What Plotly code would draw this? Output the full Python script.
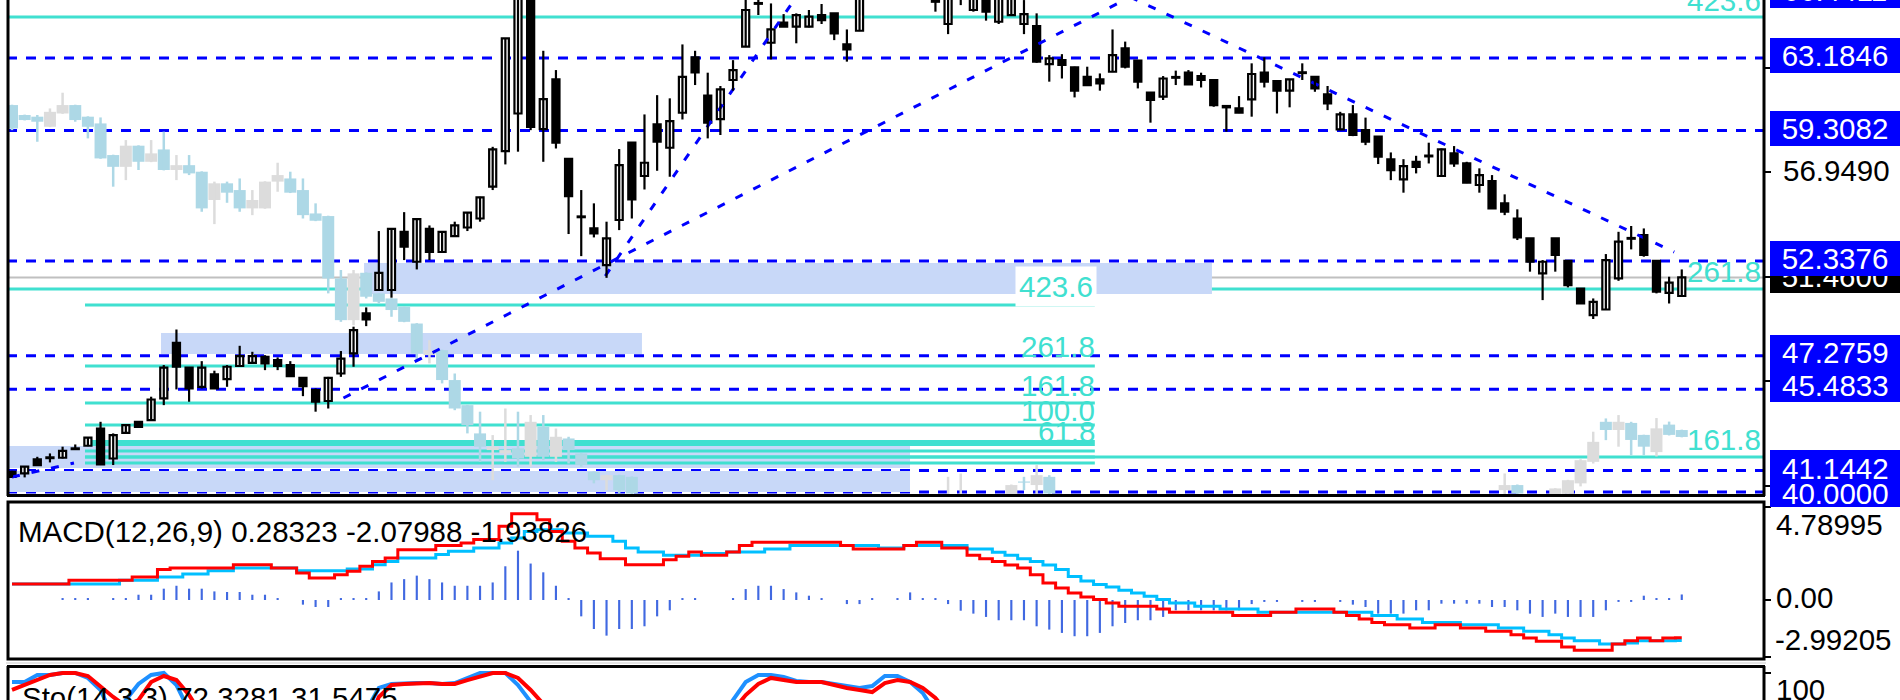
import plotly.graph_objects as go

# ---------------------------------------------------------------- data
candle_index = list(range(1, 134))

main_open = [
    41.08, 40.99, 41.74, 41.84, 41.83, 42.33, 42.47, 43.39, 41.79, 43.16,
    43.75, 43.84, 45.00, 47.97, 46.64, 45.62, 46.28, 46.03, 46.73, 46.90,
    47.22, 47.05, 46.78, 46.10, 45.44, 44.86, 46.33, 47.40, 49.54, 50.79,
    50.79, 53.90, 52.30, 54.06, 52.82, 53.67, 54.13, 54.61, 56.31, 58.21,
    60.22, 66.50, 59.39, 62.04, 57.80, 54.72, 54.08, 52.12, 54.53, 58.66,
    56.88, 59.64, 58.39, 60.26, 63.22, 61.17, 59.92, 62.01, 63.79, 66.12,
    64.00, 65.07, 64.86, 64.86, 65.48, 65.57, 63.91, 64.64, 66.50, 67.30,
    67.00, 67.60, 67.10, 66.30, 65.00, 66.40, 65.75, 66.40, 65.12, 65.48,
    65.00, 64.89, 62.86, 63.07, 62.68, 62.18, 62.04, 62.45, 63.70, 63.04,
    61.33, 61.12, 62.17, 62.40, 62.22, 62.01, 60.62, 60.49, 60.97, 62.40,
    61.95, 61.44, 62.42, 62.18, 61.24, 59.37, 60.17, 59.33, 58.98, 57.77,
    56.70, 57.64, 57.97, 56.88, 58.09, 57.55, 56.40, 56.61, 55.42, 54.61,
    53.55, 51.68, 53.55, 52.35, 50.87, 49.45, 49.75, 51.41, 53.57, 53.72,
    52.35, 50.64, 50.47]
main_high = [
    41.13, 41.38, 41.88, 42.06, 42.42, 42.54, 42.92, 43.75, 43.13, 43.59,
    43.77, 45.09, 46.78, 48.68, 46.66, 46.99, 46.48, 46.78, 47.81, 47.49,
    47.31, 47.19, 46.99, 46.12, 45.53, 46.15, 47.53, 48.83, 49.86, 53.94,
    54.08, 54.95, 54.60, 54.24, 53.92, 54.44, 54.95, 55.77, 58.44, 64.25,
    67.35, 67.20, 63.57, 62.54, 57.82, 56.13, 55.42, 54.44, 58.32, 58.68,
    60.17, 61.20, 61.03, 63.91, 63.57, 62.40, 61.69, 63.07, 66.30, 66.64,
    66.10, 65.53, 65.57, 65.75, 66.07, 65.59, 64.71, 66.80, 67.80, 67.90,
    68.10, 67.90, 67.50, 66.46, 66.60, 66.60, 66.50, 66.50, 66.50, 66.50,
    66.28, 65.57, 63.34, 63.39, 62.72, 62.72, 62.36, 64.71, 64.06, 63.07,
    61.35, 62.22, 62.51, 62.54, 62.40, 62.03, 60.67, 61.15, 62.90, 63.22,
    62.01, 62.06, 62.90, 62.20, 61.69, 60.31, 60.67, 60.00, 59.00, 58.14,
    57.78, 57.96, 58.66, 58.35, 58.48, 57.64, 57.29, 56.93, 55.90, 55.10,
    53.57, 52.39, 53.57, 52.37, 50.89, 50.34, 52.71, 53.90, 54.21, 54.08,
    52.37, 51.50, 51.89]
main_low = [
    40.78, 40.78, 41.42, 41.58, 41.79, 42.28, 42.45, 41.44, 41.44, 43.14,
    43.46, 43.81, 44.64, 45.48, 44.82, 45.53, 45.51, 45.62, 46.69, 46.87,
    46.51, 46.51, 46.17, 45.12, 44.29, 44.46, 46.15, 46.69, 48.86, 50.77,
    50.38, 52.39, 51.89, 52.39, 52.78, 53.63, 53.94, 54.44, 56.13, 57.50,
    58.18, 59.33, 57.64, 58.35, 53.78, 52.60, 53.60, 51.44, 53.99, 54.61,
    56.16, 57.16, 56.84, 59.90, 61.74, 58.89, 59.07, 61.44, 63.77, 65.48,
    63.11, 64.84, 63.97, 64.82, 65.00, 64.14, 62.99, 64.62, 66.40, 66.60,
    66.70, 66.80, 66.60, 65.66, 64.46, 66.01, 65.66, 65.18, 65.00, 65.46,
    64.46, 62.93, 61.92, 62.09, 61.08, 61.72, 61.44, 62.43, 62.63, 61.56,
    59.73, 60.94, 61.74, 61.75, 61.61, 60.58, 59.25, 60.24, 60.05, 61.61,
    60.22, 60.55, 62.01, 61.38, 60.40, 59.33, 59.01, 58.53, 57.52, 56.66,
    55.99, 57.02, 57.55, 56.84, 57.37, 56.50, 55.99, 55.13, 54.79, 53.46,
    51.77, 50.25, 51.77, 50.93, 50.05, 49.24, 49.73, 51.28, 52.96, 52.57,
    50.61, 50.07, 50.45]
main_close = [
    40.81, 41.35, 41.44, 41.81, 42.20, 42.29, 42.90, 41.47, 43.04, 43.57,
    43.48, 44.94, 46.64, 46.69, 45.53, 46.64, 45.53, 46.69, 47.26, 47.26,
    46.87, 46.73, 46.19, 45.66, 44.82, 46.10, 47.13, 48.65, 49.22, 51.71,
    54.06, 53.10, 54.58, 52.82, 53.90, 54.24, 54.92, 55.74, 58.30, 64.23,
    66.64, 59.51, 60.99, 58.66, 55.81, 54.68, 53.81, 53.55, 57.46, 55.63,
    57.59, 58.71, 59.81, 62.18, 62.41, 59.73, 61.51, 62.54, 65.75, 66.08,
    64.71, 64.86, 65.48, 65.39, 65.21, 64.50, 63.64, 66.50, 67.30, 67.00,
    67.60, 67.10, 66.90, 66.19, 66.40, 66.45, 66.35, 65.66, 66.40, 66.35,
    65.53, 62.99, 63.16, 62.81, 61.44, 61.74, 61.83, 63.34, 62.72, 61.92,
    60.94, 62.09, 62.13, 61.77, 62.01, 60.67, 60.55, 60.26, 62.33, 61.92,
    61.44, 62.04, 62.38, 61.56, 60.76, 60.17, 59.07, 58.71, 57.91, 57.20,
    57.41, 57.37, 57.93, 58.30, 57.55, 56.52, 56.93, 55.15, 54.97, 53.60,
    52.30, 52.30, 52.66, 51.05, 50.07, 50.16, 52.39, 53.37, 53.53, 52.66,
    50.70, 51.18, 51.46]

# faded overlay candles
ghost_open = [
    60.67, 60.14, 60.05, 59.51, 60.22, 60.67, 60.05, 59.69, 58.00, 57.37,
    58.50, 57.64, 58.30, 57.20, 57.46, 57.11, 55.60, 56.49, 56.13, 55.15,
    55.15, 56.58, 56.75, 56.13, 54.88, 54.74, 51.41, 49.18, 51.71, 50.61,
    50.34, 49.89, 49.00, 47.31, 47.58, 45.98, 44.64, 43.13, 42.24, 42.06,
    42.33, 41.88, 43.48, 41.88, 42.86, 42.06, 41.08, 40.63, 40.90, 40.81,
    39.5, 39.0, 38.5, 39.2, 38.4, 37.8, 38.6, 38.0, 38.9, 39.3,
    38.7, 38.2, 38.8, 39.2, 38.6, 38.1, 38.7, 39.1, 38.5, 39.0,
    39.4, 38.9, 39.3, 38.8, 39.3, 39.4, 39.6, 39.0, 38.6, 39.5,
    40.56, 40.37, 40.81, 39.6, 39.0, 38.4, 38.9, 38.2, 37.6, 38.3,
    37.7, 37.2, 37.8, 38.2, 37.6, 37.0, 37.7, 37.1, 37.8, 38.3,
    37.8, 38.4, 38.9, 38.3, 37.9, 38.6, 39.0, 38.5, 39.1, 39.4,
    38.8, 38.3, 38.9, 39.3, 38.9, 39.4, 39.0, 39.4, 40.10, 40.37,
    39.6, 39.1, 39.5, 39.9, 40.46, 41.61, 43.75, 43.31, 43.69, 43.05,
    42.13, 43.60, 43.31]
ghost_high = [
    60.69, 60.16, 60.14, 60.49, 61.33, 60.69, 60.07, 60.01, 58.02, 58.80,
    58.52, 58.80, 59.25, 58.00, 58.00, 57.13, 56.58, 56.58, 56.75, 56.13,
    56.60, 57.59, 57.11, 56.75, 55.42, 54.76, 51.86, 51.86, 51.73, 50.63,
    50.36, 49.91, 49.02, 48.11, 47.60, 46.33, 44.66, 44.29, 43.04, 44.46,
    44.29, 44.11, 44.11, 43.39, 42.95, 42.08, 41.10, 40.92, 40.92, 40.83,
    39.6, 39.2, 39.4, 39.4, 38.6, 38.9, 38.8, 39.2, 39.5, 39.5,
    38.9, 39.0, 39.5, 39.4, 38.8, 38.9, 39.3, 39.3, 39.2, 39.6,
    39.6, 39.5, 39.5, 39.6, 40.81, 40.99, 39.7, 39.2, 39.7, 40.40,
    40.81, 41.44, 40.90, 39.7, 39.2, 39.1, 39.1, 38.4, 38.6, 38.5,
    37.9, 38.0, 38.5, 38.4, 37.8, 37.9, 37.9, 38.0, 38.6, 38.5,
    38.6, 39.1, 39.1, 38.5, 38.8, 39.3, 39.2, 39.3, 39.6, 39.6,
    39.0, 39.1, 39.5, 39.5, 39.6, 39.6, 39.6, 39.6, 40.99, 40.40,
    39.7, 39.7, 40.20, 40.65, 41.75, 43.22, 43.93, 44.11, 43.75, 43.06,
    43.95, 43.76, 43.33]
ghost_low = [
    59.33, 59.85, 58.71, 59.49, 60.20, 59.78, 58.89, 57.80, 56.31, 56.66,
    57.20, 57.62, 57.18, 56.66, 56.93, 54.97, 54.31, 55.45, 54.97, 54.79,
    55.13, 56.04, 55.97, 54.61, 54.47, 50.61, 49.09, 48.91, 50.34, 50.07,
    49.36, 49.07, 47.05, 46.87, 45.80, 44.37, 43.13, 41.61, 40.63, 41.61,
    41.35, 41.35, 41.70, 41.61, 41.52, 41.35, 40.46, 40.10, 39.92, 39.80,
    38.8, 38.3, 38.3, 38.2, 37.6, 37.6, 37.8, 37.9, 38.7, 38.5,
    38.0, 38.1, 38.6, 38.4, 37.9, 38.0, 38.5, 38.3, 38.3, 38.8,
    38.7, 38.7, 38.6, 38.6, 39.1, 39.2, 38.8, 38.4, 38.5, 39.3,
    40.10, 39.90, 39.70, 38.8, 38.2, 38.2, 38.0, 37.4, 37.4, 37.5,
    37.0, 37.0, 37.6, 37.4, 36.8, 36.8, 36.9, 36.9, 37.6, 37.6,
    37.6, 38.2, 38.1, 37.7, 37.7, 38.4, 38.3, 38.3, 38.9, 38.6,
    38.1, 38.1, 38.7, 38.7, 38.7, 38.8, 38.8, 38.9, 39.80, 39.70,
    38.9, 38.9, 39.3, 39.7, 40.30, 41.52, 42.77, 42.42, 41.96, 41.97,
    41.90, 43.02, 42.92]
ghost_close = [
    59.42, 59.87, 59.78, 60.31, 60.67, 59.87, 59.51, 57.82, 57.37, 58.50,
    57.64, 58.09, 57.20, 57.46, 57.02, 55.15, 56.49, 55.99, 55.15, 55.60,
    56.58, 56.93, 55.99, 54.79, 54.49, 51.41, 49.18, 51.68, 50.43, 50.16,
    49.72, 49.09, 47.40, 47.58, 45.98, 44.46, 43.57, 42.42, 42.42, 42.24,
    41.79, 43.75, 41.88, 42.95, 42.24, 41.44, 40.63, 40.90, 40.10, 39.92,
    39.0, 38.5, 39.2, 38.4, 37.8, 38.6, 38.0, 38.9, 39.3, 38.7,
    38.2, 38.8, 39.2, 38.6, 38.1, 38.7, 39.1, 38.5, 39.0, 39.4,
    38.9, 39.3, 38.8, 39.3, 39.6, 39.7, 39.0, 38.6, 39.5, 40.37,
    40.50, 40.90, 39.92, 39.0, 38.4, 38.9, 38.2, 37.6, 38.3, 37.7,
    37.2, 37.8, 38.2, 37.6, 37.0, 37.7, 37.1, 37.8, 38.3, 37.8,
    38.4, 38.9, 38.3, 37.9, 38.6, 39.0, 38.5, 39.1, 39.4, 38.8,
    38.3, 38.9, 39.3, 38.9, 39.4, 39.0, 39.4, 39.1, 40.37, 39.92,
    39.1, 39.5, 40.19, 40.63, 41.70, 42.68, 43.31, 43.75, 42.78, 42.42,
    43.40, 43.05, 42.94]

macd_hist = [
    0, 0, 0, 0, 0.1, 0.1, 0.1, 0, 0.1, 0.1,
    0.27, 0.27, 0.58, 0.73, 0.58, 0.58, 0.44, 0.41, 0.41, 0.27,
    0.27, 0.10, 0, -0.24, -0.36, -0.36, 0.10, 0.10, 0.10, 0.44,
    0.90, 1.07, 1.25, 1.07, 0.90, 0.73, 0.73, 0.73, 0.90, 1.73,
    2.53, 1.87, 1.42, 0.73, 0.10, -0.84, -1.49, -1.83, -1.49, -1.49,
    -1.35, -0.84, -0.53, 0.1, 0.1, 0, 0, 0.10, 0.56, 0.73,
    0.73, 0.56, 0.39, 0.22, 0.10, 0, -0.21, -0.21, 0.1, 0,
    0.10, 0.39, 0.10, 0.10, -0.21, -0.55, -0.70, -0.87, -1.04, -1.04,
    -1.04, -1.35, -1.52, -1.69, -1.86, -1.86, -1.69, -1.35, -1.18, -1.04,
    -1.04, -0.87, -0.53, -0.53, -0.53, -0.53, -0.53, -0.53, -0.21, -0.1,
    -0.1, 0, -0.1, -0.1, 0, -0.1, -0.24, -0.36, -0.70, -0.70,
    -0.70, -0.53, -0.53, -0.19, -0.19, -0.19, -0.19, -0.36, -0.36, -0.53,
    -0.70, -0.87, -0.70, -0.87, -0.87, -0.87, -0.53, -0.1, -0.1, 0.22,
    0.1, 0.1, 0.28323]
macd_main = [   # light-blue line
    0.82, 0.82, 0.82, 0.82, 0.82, 0.82, 0.82, 0.82, 0.82, 1.01,
    1.01, 1.01, 1.18, 1.18, 1.33, 1.33, 1.50, 1.50, 1.64, 1.64,
    1.64, 1.64, 1.64, 1.50, 1.50, 1.50, 1.50, 1.59, 1.59, 1.81,
    1.98, 2.15, 2.15, 2.15, 2.33, 2.50, 2.50, 2.67, 2.67, 2.92,
    3.18, 3.52, 3.61, 3.61, 3.44, 3.44, 3.27, 3.27, 3.01, 2.67,
    2.46, 2.46, 2.29, 2.29, 2.29, 2.38, 2.38, 2.46, 2.46, 2.46,
    2.62, 2.62, 2.79, 2.79, 2.79, 2.79, 2.79, 2.79, 2.79, 2.67,
    2.67, 2.79, 2.79, 2.79, 2.79, 2.79, 2.62, 2.62, 2.45, 2.29,
    2.12, 1.97, 1.80, 1.56, 1.21, 0.97, 0.80, 0.67, 0.50, 0.36,
    0.19, 0.02, -0.15, -0.15, -0.32, -0.32, -0.46, -0.46, -0.46, -0.63,
    -0.63, -0.63, -0.63, -0.63, -0.63, -0.63, -0.63, -0.63, -0.80, -0.80,
    -0.97, -0.97, -1.15, -1.15, -1.15, -1.27, -1.27, -1.27, -1.44, -1.44,
    -1.61, -1.61, -1.78, -1.95, -2.09, -2.09, -2.26, -2.26, -2.21, -2.09,
    -2.09, -2.09, -2.07988]
macd_signal = [   # red line
    0.82, 0.82, 0.82, 0.82, 0.82, 1.01, 1.01, 1.01, 1.01, 1.01,
    1.18, 1.18, 1.56, 1.64, 1.64, 1.64, 1.64, 1.64, 1.81, 1.81,
    1.81, 1.64, 1.64, 1.39, 1.13, 1.13, 1.30, 1.47, 1.73, 1.98,
    2.15, 2.58, 2.58, 2.58, 2.79, 2.79, 2.92, 3.10, 3.10, 3.78,
    4.43, 4.43, 4.12, 3.52, 3.01, 2.67, 2.41, 2.12, 2.12, 1.81,
    1.81, 1.81, 2.07, 2.24, 2.46, 2.29, 2.29, 2.46, 2.79, 2.96,
    2.96, 2.96, 2.96, 2.96, 2.96, 2.96, 2.79, 2.62, 2.62, 2.62,
    2.62, 2.79, 2.96, 2.96, 2.67, 2.67, 2.29, 2.12, 1.97, 1.80,
    1.64, 1.30, 0.87, 0.62, 0.36, 0.15, 0.02, -0.15, -0.32, -0.32,
    -0.32, -0.46, -0.63, -0.63, -0.63, -0.63, -0.63, -0.80, -0.80, -0.80,
    -0.63, -0.63, -0.46, -0.46, -0.46, -0.63, -0.80, -0.97, -1.15, -1.27,
    -1.27, -1.44, -1.44, -1.27, -1.27, -1.44, -1.44, -1.61, -1.61, -1.78,
    -1.95, -2.12, -2.12, -2.41, -2.58, -2.58, -2.58, -2.26, -2.09, -1.95,
    -2.09, -1.95, -1.93826]

stoch_k = [
    94, 94, 98.7, 98.7, 100, 100, 96.7, 88.7, 70, 82,
    92.7, 98.7, 100, 92, 75, 60, 55, 58, 62, 60,
    52, 45, 35, 25, 20, 35, 50, 68, 75, 90,
    92.7, 93.3, 93.3, 93.3, 92.7, 93.3, 96.7, 100, 100, 100,
    92, 83.3, 70, 55, 40, 30, 25, 35, 45, 40,
    45, 50, 55, 65, 60, 58, 70, 82, 94, 98.7,
    98.7, 97.3, 94.7, 94, 94, 92.7, 91.3, 90, 91.3, 98,
    98, 94, 86.7, 72, 60, 62, 70, 75, 72, 68,
    55, 35, 30, 25, 15, 12, 10, 25, 20, 12,
    8, 15, 18, 16, 12, 10, 10, 25, 40, 38,
    42, 45, 40, 30, 25, 22, 18, 30, 22, 12,
    8, 6, 10, 28, 25, 35, 20, 12, 5, 4,
    6, 8, 10, 5, 4, 15, 30, 55, 68, 45,
    25, 30, 72.3281]
stoch_d = [
    88.7, 92, 95.3, 98.7, 100, 100, 98, 90.7, 84, 78,
    82, 94, 98, 95.3, 85.3, 72, 62, 58, 59, 60,
    58, 52, 44, 35, 27, 27, 35, 51, 64, 84,
    92, 92.7, 93.3, 93.3, 92.7, 92.7, 95.3, 98, 100, 100,
    96.7, 88.7, 82, 70, 55, 42, 32, 30, 35, 40,
    43, 47, 52, 57, 61, 61, 62, 75, 85.3, 92.7,
    96.7, 95.3, 94, 94, 94, 92, 90, 88.7, 87.3, 93.3,
    95.3, 94, 90, 83.3, 70, 63, 64, 69, 72, 72,
    65, 53, 40, 30, 23, 17, 12, 16, 18, 19,
    13, 12, 14, 16, 15, 13, 11, 15, 25, 34,
    40, 42, 42, 38, 32, 26, 22, 23, 23, 21,
    14, 9, 8, 15, 21, 29, 27, 22, 12, 7,
    5, 6, 8, 8, 6, 8, 16, 33, 51, 56,
    47, 38, 31.5475]

# horizontal price levels (blue dashed, labelled on the scale)
level_prices = [63.1846, 59.3082, 52.3376, 47.2759, 45.4833, 41.1442, 40.0000]
scale_plain = [62.1240, 56.9490]
scale_top = 66.4411

# Fibonacci expansion 1 (short) and 2 (full width)
fib1_levels = [423.6, 261.8, 161.8, 100.0, 61.8, 50.0, 38.2, 23.6, 0.0]
fib1_prices = [49.99, 46.73, 44.75, 43.58, 42.70, 42.54, 42.19, 41.87, 41.55]
fib1_span = [6.77, 86.6]
fib2_levels = [423.6, 261.8, 161.8]
fib2_prices = [65.375, 50.845, 41.87]

# rectangles (candle-index span, price span)
rect_x0 = [28.83, 12.78, 0.6, 0.6]
rect_x1 = [95.86, 50.8, 71.99, 71.99]
rect_lo = [50.58, 47.37, 41.28, 40.00]
rect_hi = [52.23, 48.49, 42.46, 41.12]

# trend lines (candle index pairs, price pairs)
trend_x = [[27.2, 89.4], [47.9, 63.1], [89.4, 132.4], [1.0, 5.9]]
trend_y = [[45.02, 66.44], [51.54, 66.55], [66.44, 52.82], [40.80, 41.55]]

macd_name = "MACD(12,26,9)"
macd_scale = [4.78995, 0.00, -2.99205]
stoch_name = "Sto(14,3,3)"
stoch_scale = [100]

for arr in (main_open, main_high, main_low, main_close, ghost_open, ghost_high,
            ghost_low, ghost_close, macd_hist, macd_main, macd_signal, stoch_k, stoch_d):
    assert len(arr) == len(candle_index), len(arr)

# ---------------------------------------------------------------- layout helpers
W, H = 1900, 700
PL, PR = 7, 1765
FONT = "Liberation Sans"
FS = 29.5


def xp(px):
    return (px - PL) / (PR - PL)


def yp(py):
    return (H - py) / H


fig = go.Figure()


def wicks(xs, hi, lo, mask):
    X, Y = [], []
    for x, h, l, m in zip(xs, hi, lo, mask):
        if m:
            X += [x, x, None]
            Y += [l, h, None]
    return X, Y


# ---------------------------------------------------------------- ghost candles
g_up = [c >= o for o, c in zip(ghost_open, ghost_close)]
for col, want in (("#add8e6", False), ("#dcdcdc", True)):
    X, Y = wicks(candle_index, ghost_high, ghost_low, [u == want for u in g_up])
    fig.add_trace(go.Scatter(x=X, y=Y, mode="lines", line=dict(color=col, width=2.5),
                             hoverinfo="skip", showlegend=False))
fig.add_trace(go.Bar(
    x=candle_index,
    y=[max(abs(c - o), 0.06) for o, c in zip(ghost_open, ghost_close)],
    base=[min(o, c) for o, c in zip(ghost_open, ghost_close)],
    width=0.95,
    marker=dict(color=["#dcdcdc" if u else "#add8e6" for u in g_up], line=dict(width=0)),
    hoverinfo="skip", showlegend=False))

# ---------------------------------------------------------------- trend lines
for tx, ty in zip(trend_x, trend_y):
    fig.add_trace(go.Scatter(x=tx, y=ty, mode="lines",
                             line=dict(color="#0000ff", width=3, dash="8px,12px"),
                             hoverinfo="skip", showlegend=False))

# ---------------------------------------------------------------- main candles
X, Y = wicks(candle_index, main_high, main_low, [True] * len(candle_index))
fig.add_trace(go.Scatter(x=X, y=Y, mode="lines", line=dict(color="black", width=2.2),
                         hoverinfo="skip", showlegend=False))
m_up = [c >= o for o, c in zip(main_open, main_close)]
fig.add_trace(go.Bar(
    x=candle_index,
    y=[max(abs(c - o), 0.04) for o, c in zip(main_open, main_close)],
    base=[min(o, c) for o, c in zip(main_open, main_close)],
    width=0.56,
    marker=dict(color=["white" if u else "black" for u in m_up],
                line=dict(color="black", width=2.2)),
    hoverinfo="skip", showlegend=False))

# ---------------------------------------------------------------- MACD
fig.add_trace(go.Bar(x=candle_index, y=macd_hist, width=0.17, yaxis="y2",
                     marker=dict(color="#4169e1", line=dict(width=0)),
                     hoverinfo="skip", showlegend=False))
fig.add_trace(go.Scatter(x=candle_index, y=macd_main, yaxis="y2", mode="lines",
                         line=dict(color="#00bfff", width=3, shape="hvh"),
                         hoverinfo="skip", showlegend=False))
fig.add_trace(go.Scatter(x=candle_index, y=macd_signal, yaxis="y2", mode="lines",
                         line=dict(color="#ff0000", width=3, shape="hvh"),
                         hoverinfo="skip", showlegend=False))

# ---------------------------------------------------------------- Stochastic
fig.add_trace(go.Scatter(x=candle_index, y=stoch_k, yaxis="y3", mode="lines",
                         line=dict(color="#1e90ff", width=4),
                         hoverinfo="skip", showlegend=False))
fig.add_trace(go.Scatter(x=candle_index, y=stoch_d, yaxis="y3", mode="lines",
                         line=dict(color="#ff0000", width=4),
                         hoverinfo="skip", showlegend=False))

# ---------------------------------------------------------------- shapes
shapes = []
RECT_COL = "#c8d8f8"
for x0, x1, lo, hi in zip(rect_x0, rect_x1, rect_lo, rect_hi):
    shapes.append(dict(type="rect", xref="x", yref="y", x0=x0, x1=x1, y0=lo, y1=hi,
                       fillcolor=RECT_COL, line=dict(width=0), layer="below"))

# current price line
shapes.append(dict(type="line", xref="x domain", yref="y", x0=0, x1=1,
                   y0=main_close[-1], y1=main_close[-1],
                   line=dict(color="#c0c0c0", width=2), layer="below"))

CYAN = "#40e0d0"
for lev, pr in zip(fib2_levels, fib2_prices):
    if lev == 161.8:
        shapes.append(dict(type="line", xref="x", yref="y", x0=fib1_span[0], x1=200,
                           y0=pr, y1=pr, line=dict(color=CYAN, width=3), layer="below"))
    else:
        shapes.append(dict(type="line", xref="x domain", yref="y", x0=0, x1=1,
                           y0=pr, y1=pr, line=dict(color=CYAN, width=3), layer="below"))
for lev, pr in zip(fib1_levels, fib1_prices):
    shapes.append(dict(type="line", xref="x", yref="y", x0=fib1_span[0], x1=fib1_span[1],
                       y0=pr, y1=pr, line=dict(color=CYAN, width=3), layer="below"))

for pr in level_prices:
    shapes.append(dict(type="line", xref="x domain", yref="y", x0=0, x1=1,
                       y0=pr, y1=pr, line=dict(color="#0000ff", width=3, dash="10px,9px"),
                       layer="below"))

# panel borders
BK = dict(color="black", width=3)
shapes += [
    dict(type="line", xref="paper", yref="paper", x0=xp(8), x1=xp(8), y0=yp(0), y1=yp(496), line=BK),
    dict(type="line", xref="paper", yref="paper", x0=xp(1764), x1=xp(1764), y0=yp(0), y1=yp(496), line=BK),
    dict(type="line", xref="paper", yref="paper", x0=xp(7), x1=xp(1765), y0=yp(495.5), y1=yp(495.5), line=BK),
    dict(type="rect", xref="paper", yref="paper", x0=xp(8), x1=xp(1764), y0=yp(502), y1=yp(659), line=BK),
    dict(type="line", xref="paper", yref="paper", x0=xp(6), x1=xp(1766), y0=yp(663), y1=yp(663),
         line=dict(color="#c8c8c8", width=1)),
    dict(type="line", xref="paper", yref="paper", x0=xp(7), x1=xp(1765), y0=yp(666.5), y1=yp(666.5), line=BK),
    dict(type="line", xref="paper", yref="paper", x0=xp(8), x1=xp(8), y0=yp(666), y1=yp(700), line=BK),
    dict(type="line", xref="paper", yref="paper", x0=xp(1764), x1=xp(1764), y0=yp(666), y1=yp(700), line=BK),
]
for ty in (68, 172, 277, 381, 486, 507, 600, 657, 673):
    shapes.append(dict(type="line", xref="paper", yref="paper", x0=xp(1764), x1=xp(1771),
                       y0=yp(ty), y1=yp(ty), line=dict(color="black", width=2)))

# ---------------------------------------------------------------- annotations
ann = []


def F(c):
    return dict(family=FONT, size=FS, color=c)


fib1_shift = {423.6: 18, 261.8: 20, 161.8: 18, 100.0: 14, 61.8: 10}
for lev, pr in zip(fib1_levels, fib1_prices):
    if lev in fib1_shift:
        a = dict(xref="paper", yref="y", x=xp(1097), y=pr, yshift=fib1_shift[lev],
                 xanchor="right", yanchor="middle", text="%.1f" % lev, showarrow=False,
                 font=F(CYAN))
        if lev == 423.6:
            a.update(bgcolor="white", borderpad=3)
        ann.append(a)
for lev, pr in zip(fib2_levels, fib2_prices):
    ann.append(dict(xref="paper", yref="y", x=xp(1763), y=pr, yshift=17,
                    xanchor="right", yanchor="middle", text="%.1f" % lev, showarrow=False,
                    font=F(CYAN)))


def box(text, cy, h, bg, fg="white"):
    return dict(xref="paper", yref="paper", x=xp(1770), y=yp(cy), xanchor="left",
                yanchor="middle", text=text, showarrow=False, bgcolor=bg, width=130,
                height=h, borderpad=0, borderwidth=0, align="center", valign="middle",
                font=F(fg))


def plain(text, cx, cy, color="black", anchor="left"):
    return dict(xref="paper", yref="paper", x=xp(cx), y=yp(cy), xanchor=anchor,
                yanchor="middle", text=text, showarrow=False, font=F(color))


ann.append(plain("%.4f" % scale_plain[0], 1781, 61))
ann.append(box("%.4f" % scale_top, -9, 35, "#0000ff"))
ann.append(box("%.4f" % level_prices[0], 55.5, 35, "#0000ff"))
ann.append(box("%.4f" % level_prices[1], 128.5, 35, "#0000ff"))
ann.append(plain("%.4f" % scale_plain[1], 1781, 170))
ann.append(box("%.4f" % main_close[-1], 276, 34, "black"))
ann.append(box("%.4f" % level_prices[2], 258.5, 35, "#0000ff"))
ann.append(box(" ", 368.5, 67, "#0000ff"))
ann.append(plain("%.4f" % level_prices[3], 1835, 353, "white", "center"))
ann.append(plain("%.4f" % level_prices[4], 1835, 385, "white", "center"))
ann.append(box(" ", 478.5, 57, "#0000ff"))
ann.append(plain("%.4f" % level_prices[5], 1835, 468, "white", "center"))
ann.append(plain("%.4f" % level_prices[6], 1835, 493, "white", "center"))

ann.append(plain("%.5f" % macd_scale[0], 1774, 524))
ann.append(plain("%.2f" % macd_scale[1], 1774, 597))
ann.append(plain("%.5f" % macd_scale[2], 1773, 639))
ann.append(plain("%d" % stoch_scale[0], 1774, 689))

ann.append(plain("%s %.5f %.5f %.5f" % (macd_name, macd_hist[-1], macd_main[-1], macd_signal[-1]),
                 16, 531))
ann.append(plain("%s %.4f %.4f" % (stoch_name, stoch_k[-1], stoch_d[-1]), 20, 697))

# ---------------------------------------------------------------- layout
fig.update_layout(
    width=W, height=H, autosize=False,
    margin=dict(l=PL, r=W - PR, t=0, b=0, pad=0),
    paper_bgcolor="white", plot_bgcolor="white",
    barmode="overlay", showlegend=False,
    xaxis=dict(range=[0.605, 139.58], visible=False, showgrid=False, zeroline=False),
    yaxis=dict(domain=[yp(496), 1.0], range=[39.786, 66.283], visible=False,
               showgrid=False, zeroline=False),
    yaxis2=dict(domain=[yp(660), yp(501)], range=[-3.08, 5.08], visible=False,
                showgrid=False, zeroline=False, anchor="x"),
    yaxis3=dict(domain=[0.0, yp(667)], range=[82, 104], visible=False,
                showgrid=False, zeroline=False, anchor="x"),
    shapes=shapes, annotations=ann,
)

fig.write_html("out.html",
               config={"displayModeBar": False, "staticPlot": True},
               post_script="document.body.style.margin='0';document.body.style.padding='0';")
